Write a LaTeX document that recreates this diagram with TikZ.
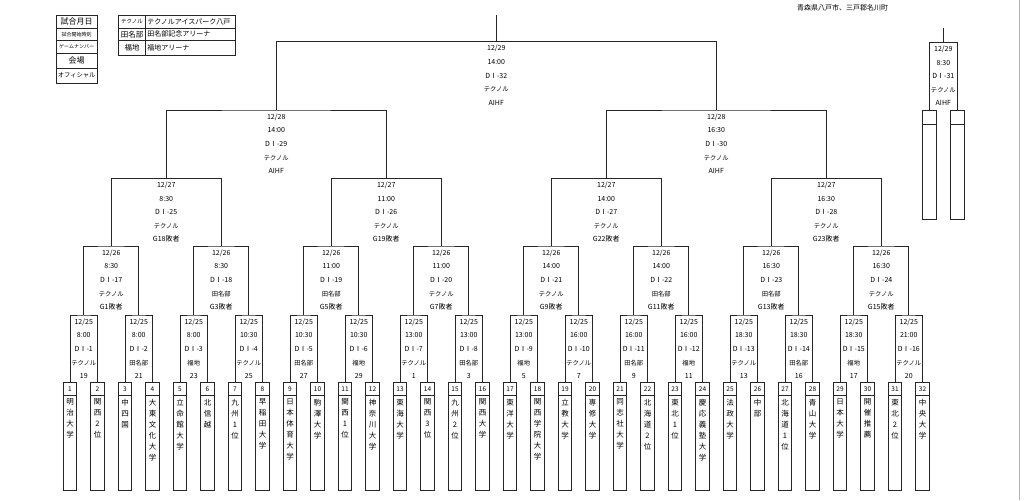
\documentclass[tikz,border=0pt]{standalone}
\usepackage{fontspec}
\setmainfont{Noto Sans CJK JP}
\usetikzlibrary{positioning}

\tikzstyle{wire} = [draw=black!85,line width=0.8pt]
\tikzstyle{team} = [draw=black!85,line width=0.8pt,rectangle,minimum width=13.5pt,minimum height=108pt,anchor=north,inner sep=0pt,outer sep=0pt]
\tikzstyle{seedno} = [font=\fontsize{6.5}{6.5}\selectfont,inner sep=0pt]
\tikzstyle{school} = [align=center,anchor=north,inner sep=0pt,font=\fontsize{7.5}{11}\selectfont]
\tikzstyle{game} = [align=center,anchor=north,inner sep=0pt,font=\fontsize{7}{13.6}\selectfont]
\tikzstyle{cell} = [draw=black!85,line width=0.8pt,rectangle,inner sep=0pt,outer sep=0pt]
\newcommand{\ven}[1]{{\fontsize{6.3}{13.6}\selectfont #1}}

\begin{document}
\begin{tikzpicture}[x=1pt,y=-1pt]
	\useasboundingbox (0,0) rectangle (1024,500);
	\draw [black!30] (1019,0) -- (1019,500);
	% legend
	\node (k1) [cell,minimum width=41.3pt,minimum height=13.3pt,anchor=north west,font=\fontsize{8}{8}\selectfont] at (56,15) {試合月日};
	\node (k2) [cell,minimum width=41.3pt,minimum height=12pt,below=0pt of k1,font=\fontsize{5}{5}\selectfont] {試合開始時刻};
	\node (k3) [cell,minimum width=41.3pt,minimum height=12.7pt,below=0pt of k2,font=\fontsize{5}{5}\selectfont] {ゲームナンバー};
	\node (k4) [cell,minimum width=41.3pt,minimum height=15.3pt,below=0pt of k3,font=\fontsize{8}{8}\selectfont] {会場};
	\node (k5) [cell,minimum width=41.3pt,minimum height=14.7pt,below=0pt of k4,font=\fontsize{6.3}{6.3}\selectfont] {オフィシャル};
	\node (v1) [cell,minimum width=27.4pt,minimum height=13pt,anchor=north west,font=\fontsize{5.5}{5.5}\selectfont] at (118.3,15) {テクノル};
	\node (v2) [cell,minimum width=27.4pt,minimum height=12.3pt,below=0pt of v1,font=\fontsize{7.5}{7.5}\selectfont] {田名部};
	\node (v3) [cell,minimum width=27.4pt,minimum height=14.7pt,below=0pt of v2,font=\fontsize{7.5}{7.5}\selectfont] {福地};
	\node (w1) [cell,text width=86pt,inner xsep=1.6pt,align=left,minimum height=13pt,right=0pt of v1,font=\fontsize{7}{7}\selectfont] {テクノルアイスパーク八戸};
	\node (w2) [cell,text width=86pt,inner xsep=1.6pt,align=left,minimum height=12.3pt,right=0pt of v2,font=\fontsize{7}{7}\selectfont] {田名部記念アリーナ};
	\node (w3) [cell,text width=86pt,inner xsep=1.6pt,align=left,minimum height=14.7pt,right=0pt of v3,font=\fontsize{7}{7}\selectfont] {福地アリーナ};
	\node (title) [font=\fontsize{7}{7}\selectfont,inner sep=0pt] at (842.5,7.5) {青森県八戸市、三戸郡名川町};
	% teams
	\foreach \nm [count=\i] in {{明\\治\\大\\学},{関\\西\\2\\位},{中\\四\\国},{大\\東\\文\\化\\大\\学},
		{立\\命\\館\\大\\学},{北\\信\\越},{九\\州\\1\\位},{早\\稲\\田\\大\\学},
		{日\\本\\体\\育\\大\\学},{駒\\澤\\大\\学},{関\\西\\1\\位},{神\\奈\\川\\大\\学},
		{東\\海\\大\\学},{関\\西\\3\\位},{九\\州\\2\\位},{関\\西\\大\\学},
		{東\\洋\\大\\学},{関\\西\\学\\院\\大\\学},{立\\教\\大\\学},{専\\修\\大\\学},
		{同\\志\\社\\大\\学},{北\\海\\道\\2\\位},{東\\北\\1\\位},{慶\\応\\義\\塾\\大\\学},
		{法\\政\\大\\学},{中\\部},{北\\海\\道\\1\\位},{青\\山\\大\\学},
		{日\\本\\大\\学},{開\\催\\推\\薦},{東\\北\\2\\位},{中\\央\\大\\学}}{
		\node (L\i) [team] at ({70+(\i-1)*27.5},382.7) {};
		\draw [wire] ([yshift=-12.3pt]L\i.north west) -- ([yshift=-12.3pt]L\i.north east);
		\node (n\i) [seedno] at ([yshift=-6.2pt]L\i.north) {\i};
		\node (s\i) [school,below=16pt of L\i.north] {\nm};
	}
	% first round
	\foreach \tm/\vn/\sd [count=\k] in {8:00/テクノル/19, 8:00/田名部/21, 8:00/福地/23, 10:30/テクノル/25,
		10:30/田名部/27, 10:30/福地/29, 13:00/テクノル/1, 13:00/田名部/3,
		13:00/福地/5, 16:00/テクノル/7, 16:00/田名部/9, 16:00/福地/11,
		18:30/テクノル/13, 18:30/田名部/16, 18:30/福地/17, 21:00/テクノル/20}{
		\pgfmathtruncatemacro{\a}{2*\k-1}
		\pgfmathtruncatemacro{\b}{2*\k}
		\coordinate (A\k) at ({83.75+(\k-1)*55},315);
		\draw [wire] (L\a.north) |- (A\k) -| (L\b.north);
		\node (a\k) [game,below=3.5pt of A\k] {12/25\\\tm\\DⅠ-\k\\\ven{\vn}\\\sd};
	}
	% second round
	\foreach \tm/\vn [count=\k] in {8:30/テクノル, 8:30/田名部, 11:00/田名部, 11:00/テクノル,
		14:00/テクノル, 14:00/田名部, 16:30/田名部, 16:30/テクノル}{
		\pgfmathtruncatemacro{\a}{2*\k-1}
		\pgfmathtruncatemacro{\b}{2*\k}
		\pgfmathtruncatemacro{\g}{16+\k}
		\coordinate (B\k) at ({111.25+(\k-1)*110},246);
		\draw [wire] (A\a) |- (B\k) -| (A\b);
		\node (b\k) [game,below=3.5pt of B\k] {12/26\\\tm\\DⅠ-\g\\\ven{\vn}\\G{\a}敗者};
	}
	% third round
	\foreach \tm/\lo [count=\k] in {8:30/18, 11:00/19, 14:00/22, 16:30/23}{
		\pgfmathtruncatemacro{\a}{2*\k-1}
		\pgfmathtruncatemacro{\b}{2*\k}
		\pgfmathtruncatemacro{\g}{24+\k}
		\coordinate (C\k) at ({166.25+(\k-1)*220},178.3);
		\draw [wire] (B\a) |- (C\k) -| (B\b);
		\node (c\k) [game,below=3.5pt of C\k] {12/27\\\tm\\DⅠ-\g\\\ven{テクノル}\\G{\lo}敗者};
	}
	% semi finals
	\foreach \tm [count=\k] in {14:00, 16:30}{
		\pgfmathtruncatemacro{\a}{2*\k-1}
		\pgfmathtruncatemacro{\b}{2*\k}
		\pgfmathtruncatemacro{\g}{28+\k}
		\coordinate (D\k) at ({276.25+(\k-1)*440},110);
		\draw [wire] (C\a) |- (D\k) -| (C\b);
		\node (d\k) [game,below=3.5pt of D\k] {12/28\\\tm\\DⅠ-\g\\\ven{テクノル}\\AIHF};
	}
	% final
	\coordinate (E) at (496.25,41.7);
	\coordinate (win) at (496.25,15);
	\draw [wire] (D1) |- (E) -| (D2);
	\draw [wire] (E) -- (win);
	\node (e) [game,below=3.5pt of E] {12/29\\14:00\\DⅠ-32\\\ven{テクノル}\\AIHF};
	% third place
	\node (S1) [team,minimum width=14pt,minimum height=109.3pt] at (929.7,110) {};
	\node (S2) [team,minimum width=14pt,minimum height=109.3pt] at (957,110) {};
	\draw [wire] ([yshift=-14pt]S1.north west) -- ([yshift=-14pt]S1.north east);
	\draw [wire] ([yshift=-14pt]S2.north west) -- ([yshift=-14pt]S2.north east);
	\coordinate (T) at (943.35,42.3);
	\coordinate (third) at (943.35,28.3);
	\draw [wire] (S1.north) |- (T) -| (S2.north);
	\draw [wire] (T) -- (third);
	\node (t) [game,below=3.5pt of T] {12/29\\8:30\\DⅠ-31\\\ven{テクノル}\\AIHF};
\end{tikzpicture}
\end{document}
